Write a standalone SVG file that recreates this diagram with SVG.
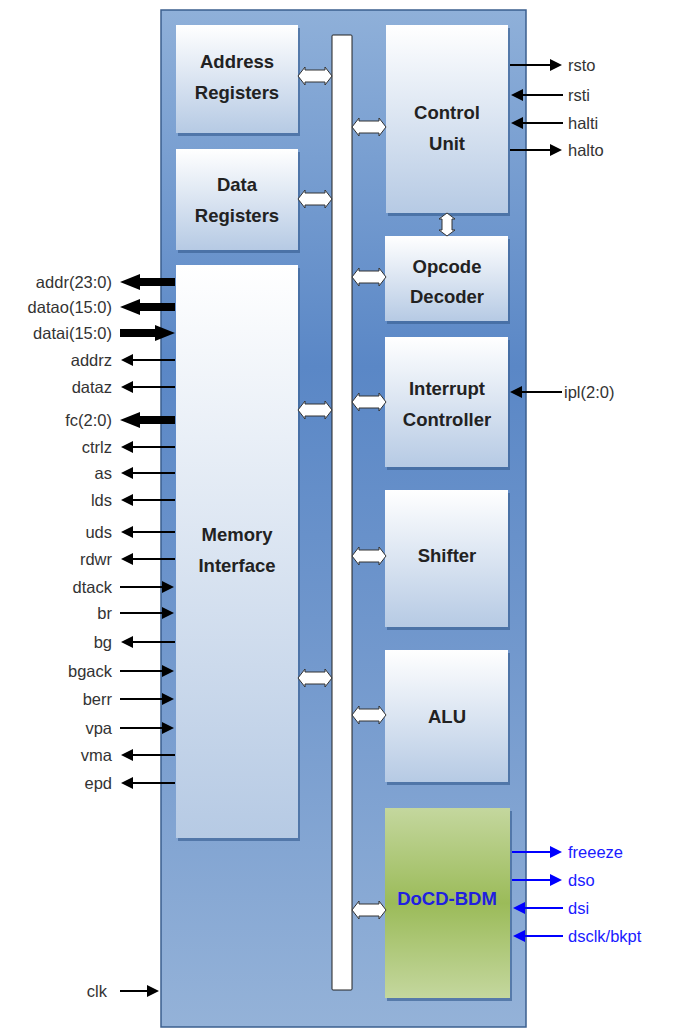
<svg xmlns="http://www.w3.org/2000/svg" xmlns:xlink="http://www.w3.org/1999/xlink" width="674" height="1030" viewBox="0 0 674 1030">
<style>
.lbl{font-family:"Liberation Sans",Arial,sans-serif;font-size:16.5px;fill:#333;}
.lblL{text-anchor:end;}
.blue{fill:#1a1aff;}
.node{font-family:"Liberation Sans",Arial,sans-serif;font-size:18.5px;font-weight:bold;fill:#222;text-anchor:middle;}
.box{fill:url(#gBox);}
.shadow{fill:#3d6497;opacity:0.7;}
.sig{stroke:#000;stroke-width:2;fill:none;}
.sigB{stroke:#0000ff;stroke-width:2;fill:none;}
.dbl{fill:#fff;stroke:#333;stroke-width:1;}
</style>
<defs>
<linearGradient id="gOuter" x1="0" y1="0" x2="0" y2="1">
<stop offset="0" stop-color="#8fb0d9"/>
<stop offset="0.35" stop-color="#5a87c6"/>
<stop offset="0.6" stop-color="#6f96cc"/>
<stop offset="1" stop-color="#94b2d8"/>
</linearGradient>
<linearGradient id="gBox" x1="0" y1="0" x2="0" y2="1">
<stop offset="0" stop-color="#ffffff"/>
<stop offset="1" stop-color="#b6cae4"/>
</linearGradient>
<linearGradient id="gGreen" x1="0" y1="0" x2="0" y2="1">
<stop offset="0" stop-color="#c4d79e"/>
<stop offset="0.5" stop-color="#9bbb59"/>
<stop offset="1" stop-color="#c4d79e"/>
</linearGradient>
<marker id="ah" viewBox="0 0 10 10" markerWidth="13" markerHeight="12" refX="5" refY="5" orient="auto" markerUnits="userSpaceOnUse">
<path d="M0,0 L10,5 L0,10 Z" fill="#000"/>
</marker>
<marker id="ahB" viewBox="0 0 10 10" markerWidth="13" markerHeight="12" refX="5" refY="5" orient="auto" markerUnits="userSpaceOnUse">
<path d="M0,0 L10,5 L0,10 Z" fill="#0000ff"/>
</marker>
<path id="dbl" class="dbl" d="M0,0 L7,-9 L7,-6 L27,-6 L27,-9 L34,0 L27,9 L27,6 L7,6 L7,9 Z"/>
</defs>

<g id="cpu">
<rect x="161" y="10" width="365" height="1017" fill="url(#gOuter)" stroke="#3b5f8f" stroke-width="1.5"/>
</g>

<g id="bus">
<rect x="332" y="35" width="20" height="955" rx="1" fill="#fff" stroke="#222" stroke-width="1"/>
</g>

<g id="address-registers">
<rect class="shadow" x="178" y="28" width="122" height="108"/>
<rect class="box" x="176" y="25" width="122" height="108"/>
<text class="node" x="237" y="68">Address</text>
<text class="node" x="237" y="99">Registers</text>
</g>
<g id="data-registers">
<rect class="shadow" x="178" y="152" width="122" height="101"/>
<rect class="box" x="176" y="149" width="122" height="101"/>
<text class="node" x="237" y="191">Data</text>
<text class="node" x="237" y="222">Registers</text>
</g>
<g id="memory-interface">
<rect class="shadow" x="178" y="268" width="122" height="573"/>
<rect class="box" x="176" y="265" width="122" height="573"/>
<text class="node" x="237" y="541">Memory</text>
<text class="node" x="237" y="572">Interface</text>
</g>
<g id="control-unit">
<rect class="shadow" x="388" y="28" width="122" height="188"/>
<rect class="box" x="386" y="25" width="122" height="188"/>
<text class="node" x="447" y="119">Control</text>
<text class="node" x="447" y="150">Unit</text>
</g>
<g id="opcode-decoder">
<rect class="shadow" x="387" y="239" width="123" height="85"/>
<rect class="box" x="385" y="236" width="123" height="85"/>
<text class="node" x="447" y="273">Opcode</text>
<text class="node" x="447" y="303">Decoder</text>
</g>
<g id="interrupt-controller">
<rect class="shadow" x="387" y="340" width="123" height="130"/>
<rect class="box" x="385" y="337" width="123" height="130"/>
<text class="node" x="447" y="395">Interrupt</text>
<text class="node" x="447" y="426">Controller</text>
</g>
<g id="shifter">
<rect class="shadow" x="387" y="493" width="123" height="137"/>
<rect class="box" x="385" y="490" width="123" height="137"/>
<text class="node" x="447" y="562">Shifter</text>
</g>
<g id="alu">
<rect class="shadow" x="387" y="653" width="123" height="132"/>
<rect class="box" x="385" y="650" width="123" height="132"/>
<text class="node" x="447" y="723">ALU</text>
</g>
<g id="docd-bdm">
<rect class="shadow" x="387" y="811" width="125" height="190"/>
<rect x="385" y="808" width="125" height="190" fill="url(#gGreen)"/>
<text class="node" x="447" y="905" style="fill:#2020e0">DoCD-BDM</text>
</g>

<g id="connectors">
<use xlink:href="#dbl" x="298" y="76"/>
<use xlink:href="#dbl" x="298" y="199"/>
<use xlink:href="#dbl" x="298" y="410"/>
<use xlink:href="#dbl" x="298" y="678"/>
<use xlink:href="#dbl" x="352" y="127"/>
<use xlink:href="#dbl" x="352" y="277"/>
<use xlink:href="#dbl" x="352" y="402"/>
<use xlink:href="#dbl" x="352" y="556"/>
<use xlink:href="#dbl" x="352" y="715"/>
<use xlink:href="#dbl" x="352" y="910"/>
<path class="dbl" d="M447,213 L455,219 L452,219 L452,230 L455,230 L447,236 L439,230 L442,230 L442,219 L439,219 Z"/>

<polygon points="120,282 140,274 140,278 175,278 175,286 140,286 140,290" fill="#000"/>
<polygon points="120,307 140,299 140,303 175,303 175,311 140,311 140,315" fill="#000"/>
<polygon points="175,333 155,325 155,329 120,329 120,337 155,337 155,341" fill="#000"/>
<polygon points="120,420 140,412 140,416 175,416 175,424 140,424 140,428" fill="#000"/>

<line class="sig" x1="175" y1="360" x2="127" y2="360" marker-end="url(#ah)"/>
<line class="sig" x1="175" y1="387" x2="127" y2="387" marker-end="url(#ah)"/>
<line class="sig" x1="175" y1="447" x2="127" y2="447" marker-end="url(#ah)"/>
<line class="sig" x1="175" y1="473" x2="127" y2="473" marker-end="url(#ah)"/>
<line class="sig" x1="175" y1="500" x2="127" y2="500" marker-end="url(#ah)"/>
<line class="sig" x1="175" y1="532" x2="127" y2="532" marker-end="url(#ah)"/>
<line class="sig" x1="175" y1="559" x2="127" y2="559" marker-end="url(#ah)"/>
<line class="sig" x1="120" y1="587" x2="168" y2="587" marker-end="url(#ah)"/>
<line class="sig" x1="120" y1="613" x2="168" y2="613" marker-end="url(#ah)"/>
<line class="sig" x1="175" y1="642" x2="127" y2="642" marker-end="url(#ah)"/>
<line class="sig" x1="120" y1="671" x2="168" y2="671" marker-end="url(#ah)"/>
<line class="sig" x1="120" y1="699" x2="168" y2="699" marker-end="url(#ah)"/>
<line class="sig" x1="120" y1="728" x2="168" y2="728" marker-end="url(#ah)"/>
<line class="sig" x1="175" y1="755" x2="127" y2="755" marker-end="url(#ah)"/>
<line class="sig" x1="175" y1="783" x2="127" y2="783" marker-end="url(#ah)"/>
<line class="sig" x1="120" y1="991" x2="153" y2="991" marker-end="url(#ah)"/>

<line class="sig" x1="510" y1="65" x2="556" y2="65" marker-end="url(#ah)"/>
<line class="sig" x1="563" y1="95" x2="517" y2="95" marker-end="url(#ah)"/>
<line class="sig" x1="563" y1="123" x2="517" y2="123" marker-end="url(#ah)"/>
<line class="sig" x1="510" y1="150" x2="556" y2="150" marker-end="url(#ah)"/>
<line class="sig" x1="562" y1="392" x2="516" y2="392" stroke-width="2.5" marker-end="url(#ah)"/>

<line class="sigB" x1="512" y1="852" x2="556" y2="852" marker-end="url(#ahB)"/>
<line class="sigB" x1="512" y1="880" x2="556" y2="880" marker-end="url(#ahB)"/>
<line class="sigB" x1="563" y1="908" x2="519" y2="908" marker-end="url(#ahB)"/>
<line class="sigB" x1="563" y1="936" x2="519" y2="936" marker-end="url(#ahB)"/>
</g>

<g id="labels">
<text class="lbl lblL" x="112" y="288">addr(23:0)</text>
<text class="lbl lblL" x="112" y="313">datao(15:0)</text>
<text class="lbl lblL" x="112" y="339">datai(15:0)</text>
<text class="lbl lblL" x="112" y="366">addrz</text>
<text class="lbl lblL" x="112" y="393">dataz</text>
<text class="lbl lblL" x="112" y="426">fc(2:0)</text>
<text class="lbl lblL" x="112" y="453">ctrlz</text>
<text class="lbl lblL" x="112" y="479">as</text>
<text class="lbl lblL" x="112" y="506">lds</text>
<text class="lbl lblL" x="112" y="538">uds</text>
<text class="lbl lblL" x="112" y="565">rdwr</text>
<text class="lbl lblL" x="112" y="593">dtack</text>
<text class="lbl lblL" x="112" y="619">br</text>
<text class="lbl lblL" x="112" y="648">bg</text>
<text class="lbl lblL" x="112" y="677">bgack</text>
<text class="lbl lblL" x="112" y="705">berr</text>
<text class="lbl lblL" x="112" y="734">vpa</text>
<text class="lbl lblL" x="112" y="761">vma</text>
<text class="lbl lblL" x="112" y="789">epd</text>
<text class="lbl lblL" x="107" y="997">clk</text>

<text class="lbl" x="568" y="71">rsto</text>
<text class="lbl" x="568" y="101">rsti</text>
<text class="lbl" x="568" y="129">halti</text>
<text class="lbl" x="568" y="156">halto</text>
<text class="lbl" x="564" y="398">ipl(2:0)</text>

<text class="lbl blue" x="568" y="858">freeeze</text>
<text class="lbl blue" x="568" y="886">dso</text>
<text class="lbl blue" x="568" y="914">dsi</text>
<text class="lbl blue" x="568" y="942">dsclk/bkpt</text>
</g>
</svg>
